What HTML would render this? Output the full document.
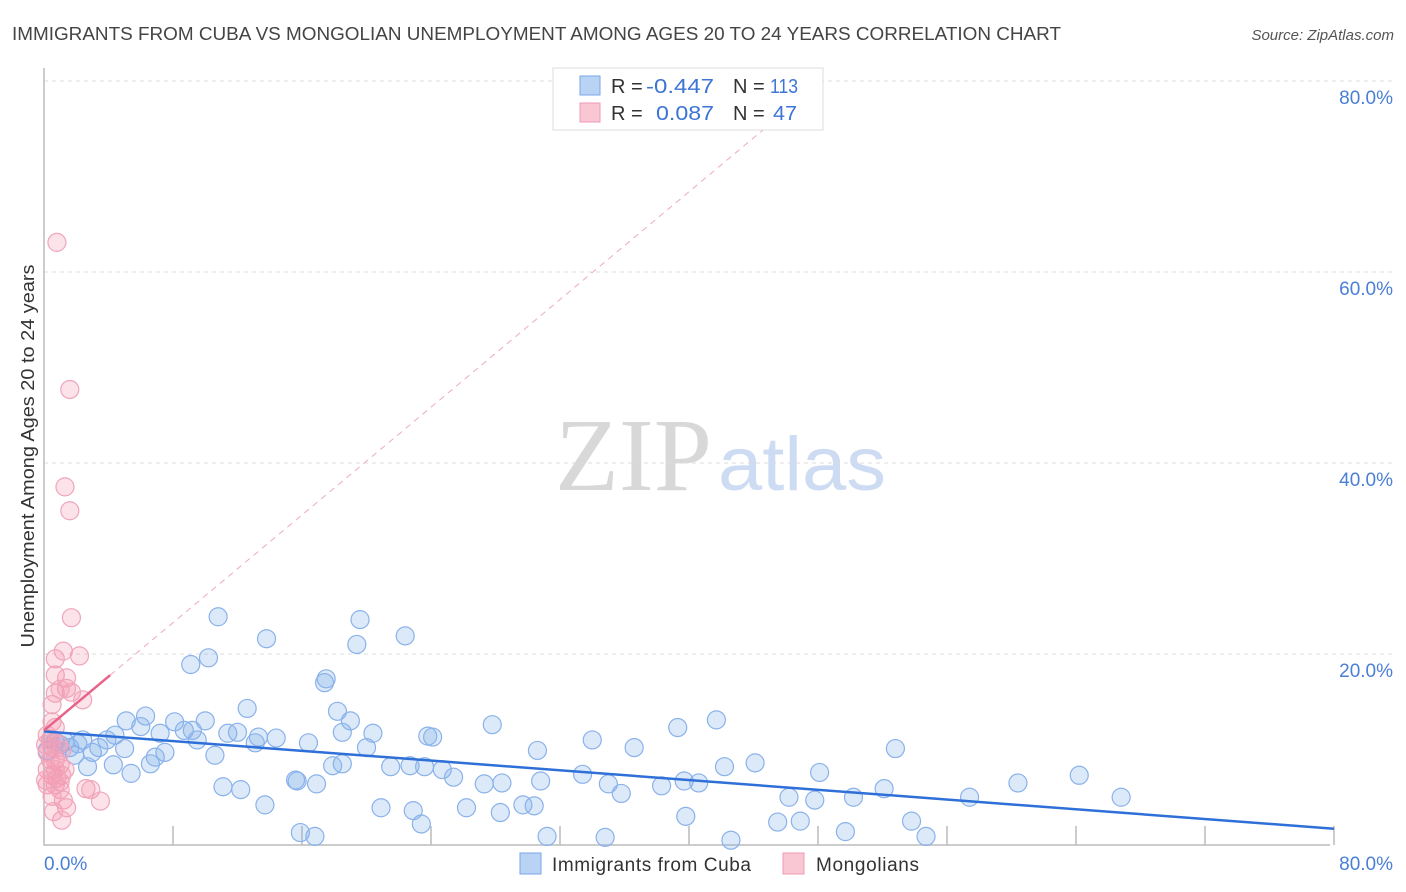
<!DOCTYPE html>
<html><head><meta charset="utf-8"><style>
body{margin:0;background:#fff;font-family:"Liberation Sans",sans-serif}
svg{display:block}
</style></head><body>
<svg id="c" width="1406" height="892" xmlns="http://www.w3.org/2000/svg">
<text x="12" y="40" font-size="18" fill="#444" textLength="1049" lengthAdjust="spacingAndGlyphs">IMMIGRANTS FROM CUBA VS MONGOLIAN UNEMPLOYMENT AMONG AGES 20 TO 24 YEARS CORRELATION CHART</text>
<text x="1394" y="40" font-size="15" fill="#555" font-style="italic" text-anchor="end">Source: ZipAtlas.com</text>
<g>
<text x="555" y="490" font-size="104" fill="#d8d8d8" font-family="Liberation Serif" textLength="157" lengthAdjust="spacingAndGlyphs">ZIP</text>
<text x="718" y="490" font-size="76" fill="#cddcf2" textLength="168" lengthAdjust="spacingAndGlyphs">atlas</text>
</g>
<text transform="translate(34,456) rotate(-90)" font-size="18" fill="#333" text-anchor="middle" textLength="383" lengthAdjust="spacingAndGlyphs">Unemployment Among Ages 20 to 24 years</text>
<g id="grid"></g><g id="pts"></g><g id="lines"></g>
<g>
<rect x="553" y="68" width="270" height="62" fill="#fff" stroke="#ddd"/>
<rect x="580" y="76" width="20" height="19" fill="#b9d3f5" stroke="#7aa6e6"/>
<rect x="580" y="103" width="20" height="19" fill="#f9c6d4" stroke="#ee9ab3"/>
<g font-size="20" fill="#333">
<text x="611" y="93">R =</text><text x="646" y="93" fill="#3d75d4" textLength="68" lengthAdjust="spacingAndGlyphs">-0.447</text>
<text x="733" y="93">N =</text><text x="770" y="93" fill="#3d75d4" textLength="28" lengthAdjust="spacingAndGlyphs">113</text>
<text x="611" y="120">R =</text><text x="656" y="120" fill="#3d75d4" textLength="58" lengthAdjust="spacingAndGlyphs">0.087</text>
<text x="733" y="120">N =</text><text x="773" y="120" fill="#3d75d4" textLength="24" lengthAdjust="spacingAndGlyphs">47</text>
</g>
</g>
<g>
<rect x="520" y="853" width="21" height="21" fill="#b9d3f5" stroke="#7aa6e6"/>
<text x="552" y="871" font-size="19" fill="#333" textLength="199">Immigrants from Cuba</text>
<rect x="783" y="853" width="21" height="21" fill="#f9c6d4" stroke="#ee9ab3"/>
<text x="816" y="871" font-size="19" fill="#333" textLength="103">Mongolians</text>
</g>
</svg>
<script>
const yTicks=[20,40,60,80];
const yTickLabels=["20.0%","40.0%","60.0%","80.0%"];
const xTickLabels=["0.0%","80.0%"];
const cubaX=[10.8,19.6,13.8,22.4,9.1,10.2,19.4,17.4,17.5,12.6,18.2,6.3,5.1,8.1,10.0,19.0,27.8,41.7,39.3,6.0,7.2,8.7,9.2,12.0,11.4,13.3,14.4,18.5,20.4,23.8,24.1,34.0,4.4,2.4,3.9,3.4,5.0,7.5,9.5,13.1,16.4,20.0,30.6,36.6,52.8,1.0,1.6,1.9,3.0,6.9,6.6,5.4,4.3,2.7,10.6,21.5,22.7,23.6,24.7,25.4,18.5,17.9,33.4,35.0,30.8,27.3,28.4,35.8,38.3,39.7,40.6,42.2,44.1,48.1,60.4,64.2,52.1,15.6,15.7,16.9,11.1,12.2,13.7,20.9,22.9,26.2,28.3,29.7,30.4,46.2,47.8,50.2,57.4,66.8,39.8,45.5,46.9,49.7,53.8,54.7,15.9,16.8,23.4,31.2,34.8,42.6,0.4,0.7,1.3,0.2,2.1];
const cubaY=[23.9,23.6,21.6,21.9,18.9,19.6,21.0,17.0,17.4,14.3,14.0,13.5,13.0,12.9,13.0,13.0,12.6,13.1,12.3,12.4,11.7,12.0,12.0,11.8,11.7,11.3,11.2,11.8,11.7,11.4,11.3,11.0,11.5,11.0,11.0,10.2,10.1,9.7,11.0,10.7,10.7,10.2,9.9,10.2,10.1,10.5,10.2,9.4,9.7,9.2,8.5,7.5,8.4,8.2,9.4,8.2,8.3,8.2,7.9,7.1,8.5,8.3,7.4,6.4,6.7,6.4,6.5,5.4,6.2,6.7,6.5,8.2,8.6,7.6,6.5,7.3,5.9,6.8,6.7,6.4,6.1,5.8,4.2,3.9,3.6,3.9,3.4,4.2,4.1,5.0,4.7,5.0,5.0,5.0,3.0,2.4,2.5,1.4,2.5,0.9,1.3,0.9,2.2,0.9,0.8,0.5,11.0,10.8,10.8,9.9,10.6];
const mongX=[0.8,1.6,1.3,1.6,1.7,1.2,0.7,2.2,0.7,1.4,1.4,1.7,2.4,0.7,0.5,1.0,0.5,0.4,0.5,0.2,0.7,1.0,0.2,0.5,0.8,1.1,0.7,1.0,0.2,1.2,1.4,1.1,2.6,2.9,3.5,0.1,0.9,1.1,0.2,0.7,0.4,1.3,0.7,1.0,0.5,0.1,0.6];
const mongY=[63.1,47.7,37.5,35.0,23.8,20.3,19.5,19.8,17.8,17.5,16.4,16.0,15.2,15.9,14.7,16.3,12.9,11.0,10.2,9.7,8.9,8.4,7.9,7.3,7.0,7.3,6.3,5.8,6.3,4.7,3.9,2.6,5.9,5.8,4.6,10.5,10.5,9.9,11.5,12.3,8.9,7.9,7.9,6.6,5.1,6.8,3.5];
const cubaTrend=[11.9,1.7]; // y at x=0 and x=80
const mongTrend=[12.0,1.41]; // intercept, slope
const NS="http://www.w3.org/2000/svg";
const X=v=>44+v*16.125, Y=v=>845-v*9.55;
function mk(t,a,p){const e=document.createElementNS(NS,t);for(const k in a)e.setAttribute(k,a[k]);p.appendChild(e);return e;}
const grid=document.getElementById('grid');
yTicks.forEach((t,i)=>{
 const l=mk('line',{x1:44,x2:1394,y1:Y(t),y2:Y(t),stroke:'#ddd','stroke-dasharray':'4 4'},grid);
 
 
 const tx=mk('text',{x:1393,y:Y(t)+23,'font-size':19,fill:'#4a7fd6','text-anchor':'end'},grid);
 tx.textContent=yTickLabels[i];
 
 
});
const ax=mk('path',{d:`M44 68V845H1330`,stroke:'#bbb',fill:'none','stroke-width':1.5},grid);


for(let i=1;i<=10;i++){const t=mk('line',{x1:X(i*8),x2:X(i*8),y1:826,y2:845,stroke:'#bbb','stroke-width':1.5},grid);
 
 }
const xl0=mk('text',{x:44,y:870,'font-size':19,fill:'#4a7fd6'},grid);xl0.textContent=xTickLabels[0];


const xl1=mk('text',{x:1393,y:870,'font-size':19,fill:'#4a7fd6','text-anchor':'end'},grid);xl1.textContent=xTickLabels[1];


const pts=document.getElementById('pts');
cubaX.forEach((x,i)=>{const c=mk('circle',{cx:X(x),cy:Y(cubaY[i]),r:9,fill:'rgba(130,175,235,0.28)',stroke:'#8ab2ea','stroke-width':1.2},pts);
 
 });
mongX.forEach((x,i)=>{const c=mk('circle',{cx:X(x),cy:Y(mongY[i]),r:9,fill:'rgba(244,150,175,0.28)',stroke:'#f0a5bb','stroke-width':1.2},pts);
 
 });
const lines=document.getElementById('lines');
const bl=mk('line',{x1:X(0),y1:Y(cubaTrend[0]),x2:X(80),y2:Y(cubaTrend[1]),stroke:'#2f6fd8','stroke-width':2.5},lines);


const xe=(80-mongTrend[0])/mongTrend[1];
const pd=mk('line',{x1:X(4.1),y1:Y(mongTrend[0]+mongTrend[1]*4.1),x2:X(xe),y2:Y(80),stroke:'#eeaabb','stroke-width':1,'stroke-dasharray':'6 5'},lines);


const ps=mk('line',{x1:X(0),y1:Y(mongTrend[0]),x2:X(4.1),y2:Y(mongTrend[0]+mongTrend[1]*4.1),stroke:'#e8638a','stroke-width':2.5},lines);


</script>
</body></html>
